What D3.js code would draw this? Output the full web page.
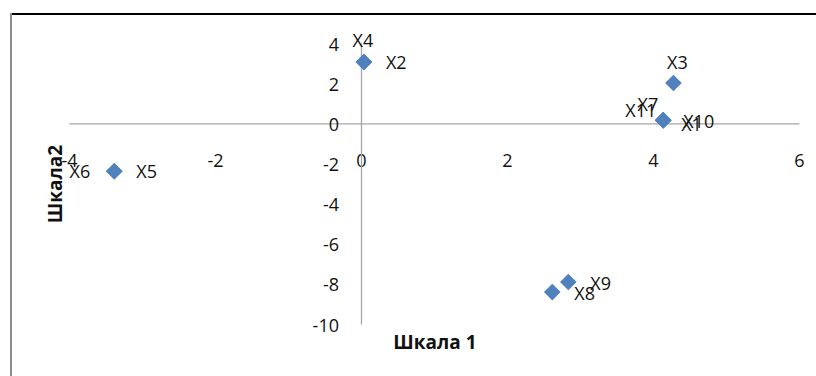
<!DOCTYPE html>
<html>
<head>
<meta charset="utf-8">
<script src="https://cdn.jsdelivr.net/npm/d3@7"></script>
<style>
  html, body { margin: 0; padding: 0; background: #fff; }
  svg { display: block; }
  text { font-family: "Open Sans", "DejaVu Sans", sans-serif; fill: #111; }
</style>
</head>
<body>
<svg id="chart" width="816" height="376"></svg>
<script>
// Point names and their coordinates on the two scales
const pointNames = ["X1", "X2", "X3", "X4", "X5", "X6", "X7", "X8", "X9", "X10", "X11"];
const scale1Values = [4.14, 0.04, 4.28, 0.04, -3.38, -3.38, 4.14, 2.62, 2.84, 4.14, 4.14];
const scale2Values = [0.15, 3.05, 2.01, 3.05, -2.39, -2.39, 0.15, -8.41, -7.91, 0.15, 0.15];

// Axis ticks
const xTicks = [-4, -2, 0, 2, 4, 6];
const yTicks = [-10, -8, -6, -4, -2, 0, 2, 4];
const xTitle = "Шкала 1";
const yTitle = "Шкала2";

// Label placement for each point: offset from the marker and text anchor
const labelPlacement = [
  { dx: 18, dy: 4, anchor: "start" },   // X1
  { dx: 22, dy: 0, anchor: "start" },   // X2
  { dx: 4, dy: -21, anchor: "middle" }, // X3
  { dx: -1, dy: -22, anchor: "middle" },// X4
  { dx: 22, dy: 0, anchor: "start" },   // X5
  { dx: -24, dy: 0, anchor: "end" },    // X6
  { dx: -5, dy: -16, anchor: "end" },   // X7
  { dx: 22, dy: 1, anchor: "start" },   // X8
  { dx: 22, dy: 1, anchor: "start" },   // X9
  { dx: 20, dy: 1, anchor: "start" },   // X10
  { dx: -7, dy: -10, anchor: "end" }    // X11
];

const points = pointNames.map((name, i) => ({
  name, x: scale1Values[i], y: scale2Values[i], label: labelPlacement[i]
}));

const svg = d3.select("#chart");
const fontSize = 18;
// Plain hyphen for negative tick values
const tickFmt = d => String(d);

// Chart frame: dark top edge and grey left edge
svg.append("line").attr("x1", 10).attr("x2", 816).attr("y1", 14).attr("y2", 14)
  .attr("stroke", "#000").attr("stroke-width", 2.2);
svg.append("line").attr("x1", 11).attr("x2", 11).attr("y1", 13).attr("y2", 376)
  .attr("stroke", "#8c8c8c").attr("stroke-width", 2);

const x = d3.scaleLinear().domain([-4, 6]).range([69, 799]);
const y = d3.scaleLinear().domain([-10, 4]).range([324, 43]);

// Horizontal axis through y = 0
const gx = svg.append("g")
  .attr("transform", `translate(0,${y(0)})`)
  .call(d3.axisBottom(x).tickValues(xTicks).tickSize(0).tickFormat(tickFmt));
gx.select(".domain").attr("stroke", "#a6a6a6").attr("stroke-width", 1.3);
gx.selectAll("text")
  .attr("y", 37).attr("dy", null)
  .attr("dominant-baseline", "central")
  .style("font-size", fontSize + "px")
  .style("font-family", "'Open Sans', sans-serif")
  .attr("fill", "#111");

// Vertical axis through x = 0
const gy = svg.append("g")
  .attr("transform", `translate(${x(0)},0)`)
  .call(d3.axisLeft(y).tickValues(yTicks).tickSize(0).tickPadding(22).tickFormat(tickFmt));
gy.select(".domain").attr("stroke", "#a6a6a6").attr("stroke-width", 1.3);
gy.selectAll("text")
  .attr("dy", null)
  .attr("dominant-baseline", "central")
  .style("font-size", fontSize + "px")
  .style("font-family", "'Open Sans', sans-serif")
  .attr("fill", "#111");

// Diamond markers
const half = 8.3;
const diamond = `M0,${-half}L${half},0L0,${half}L${-half},0Z`;
svg.append("g").selectAll("path")
  .data(points)
  .join("path")
  .attr("d", diamond)
  .attr("transform", d => `translate(${x(d.x)},${y(d.y)})`)
  .attr("fill", "#4f81bd");

// Point labels
svg.append("g").selectAll("text")
  .data(points)
  .join("text")
  .attr("x", d => x(d.x) + d.label.dx)
  .attr("y", d => y(d.y) + d.label.dy)
  .attr("text-anchor", d => d.label.anchor)
  .attr("dominant-baseline", "central")
  .style("font-size", fontSize + "px")
  .text(d => d.name);

// Axis titles
svg.append("text")
  .attr("x", 435).attr("y", 342)
  .attr("text-anchor", "middle")
  .attr("dominant-baseline", "central")
  .style("font-size", "19px").style("font-weight", "bold")
  .text(xTitle);

svg.append("text")
  .attr("transform", "translate(55,184) rotate(-90)")
  .attr("text-anchor", "middle")
  .attr("dominant-baseline", "central")
  .style("font-size", "19px").style("font-weight", "bold")
  .text(yTitle);
</script>
</body>
</html>
